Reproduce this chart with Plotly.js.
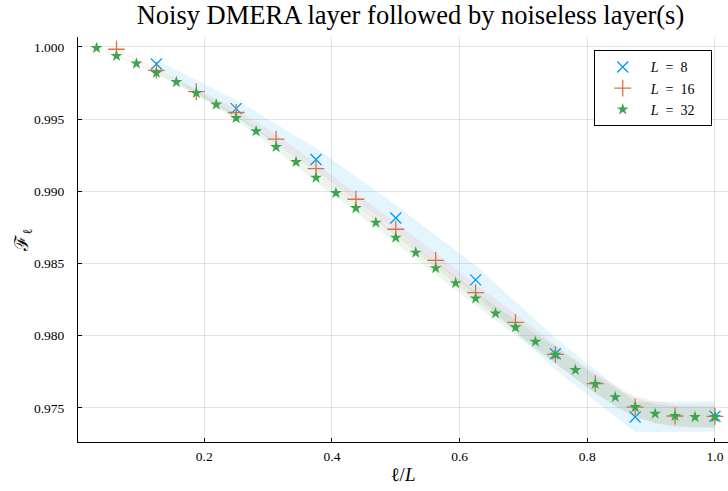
<!DOCTYPE html>
<html>
<head>
<meta charset="utf-8">
<script src="https://cdn.plot.ly/plotly-3.0.1.min.js"></script>
<style>html,body{margin:0;padding:0;background:#fff;}#chart{width:728px;height:491px;}</style>
</head>
<body>
<div id="chart"></div>
<script>
// ---- data ----
const seriesNames = ["<i>L</i>\u2002=\u20028\u2002\u2009", "<i>L</i>\u2002=\u200216\u2002\u2009", "<i>L</i>\u2002=\u200232\u2002\u2009"];

const x8 = [0.125, 0.25, 0.375, 0.5, 0.625, 0.75, 0.875, 1.0];
const y8 = [0.99882, 0.99573, 0.99220, 0.98815, 0.98386, 0.97875, 0.97436, 0.97441];
const hw8 = [0.0003, 0.0006, 0.0008, 0.0009, 0.0010, 0.0011, 0.00105, 0.00105];

const x16 = [0.0625, 0.125, 0.1875, 0.25, 0.3125, 0.375, 0.4375, 0.5,
             0.5625, 0.625, 0.6875, 0.75, 0.8125, 0.875, 0.9375, 1.0];
const y16 = [0.99984, 0.99838, 0.99690, 0.99546, 0.99362, 0.99157, 0.98945, 0.98737,
             0.98522, 0.98298, 0.98092, 0.97870, 0.97667, 0.97504, 0.97443, 0.97441];
const hw16 = [0.00005, 0.0001, 0.0002, 0.00025, 0.0003, 0.00035, 0.0004, 0.00045,
              0.0005, 0.00055, 0.0006, 0.00065, 0.0007, 0.00075, 0.0008, 0.0008];

const x32 = [0.03125, 0.0625, 0.09375, 0.125, 0.15625, 0.1875, 0.21875, 0.25,
             0.28125, 0.3125, 0.34375, 0.375, 0.40625, 0.4375, 0.46875, 0.5,
             0.53125, 0.5625, 0.59375, 0.625, 0.65625, 0.6875, 0.71875, 0.75,
             0.78125, 0.8125, 0.84375, 0.875, 0.90625, 0.9375, 0.96875, 1.0];
const y32 = [0.99993, 0.99938, 0.99885, 0.99820, 0.99757, 0.99681, 0.99601, 0.99508,
             0.99416, 0.99307, 0.99203, 0.99095, 0.98988, 0.98884, 0.98783, 0.98679,
             0.98575, 0.98468, 0.98364, 0.98258, 0.98154, 0.98058, 0.97958, 0.97868,
             0.97762, 0.97665, 0.97574, 0.97505, 0.97459, 0.97443, 0.97436, 0.97436];
const hw32 = [0.00002, 0.00004, 0.00006, 0.0001, 0.00012, 0.00015, 0.00018, 0.0002,
              0.00022, 0.00025, 0.00028, 0.0003, 0.00032, 0.00035, 0.00037, 0.0004,
              0.00042, 0.00044, 0.00046, 0.00048, 0.0005, 0.00052, 0.00054, 0.00056,
              0.00058, 0.0006, 0.00062, 0.00064, 0.00066, 0.00068, 0.0007, 0.0007];

const xTickVals = [0.2, 0.4, 0.6, 0.8, 1.0];
const xTickText = ["0.2", "0.4", "0.6", "0.8", "1.0"];
const yTickVals = [0.975, 0.980, 0.985, 0.990, 0.995, 1.000];
const yTickText = ["0.975", "0.980", "0.985", "0.990", "0.995", "1.000"];

// ---- styling ----
const colors = ["#009AFA", "#E36F47", "#3EA44E"];
const fills = ["rgba(0,154,250,0.10)", "rgba(227,111,71,0.10)", "rgba(62,164,78,0.10)"];
const SERIF = "'Liberation Serif', 'DejaVu Serif', serif";

function ribbon(xs, ys, hw, fill) {
  const lo = ys.map((v, i) => v - hw[i]);
  const hi = ys.map((v, i) => v + hw[i]);
  return [
    {x: xs, y: lo, mode: "lines", line: {width: 0, color: fill}, showlegend: false, hoverinfo: "skip"},
    {x: xs, y: hi, mode: "lines", line: {width: 0, color: fill}, fill: "tonexty", fillcolor: fill, showlegend: false, hoverinfo: "skip"}
  ];
}

const traces = [];
traces.push(...ribbon(x8, y8, hw8, fills[0]));
traces.push({x: x8, y: y8, mode: "markers", name: seriesNames[0],
  marker: {symbol: "x-thin-open", size: 11, color: colors[0], line: {width: 1.3, color: colors[0]}}});
traces.push(...ribbon(x16, y16, hw16, fills[1]));
traces.push({x: x16, y: y16, mode: "markers", name: seriesNames[1],
  marker: {symbol: "cross-thin-open", size: 12, color: colors[1], line: {width: 1.3, color: colors[1]}}});
traces.push(...ribbon(x32, y32, hw32, fills[2]));
traces.push({x: x32, y: y32, mode: "markers", name: seriesNames[2],
  marker: {symbol: "star", size: 9, color: colors[2], line: {width: 0}}});

const layout = {
  width: 728, height: 491,
  margin: {l: 78, r: 0, t: 37, b: 49, pad: 0},
  paper_bgcolor: "#ffffff", plot_bgcolor: "#ffffff",
  font: {family: SERIF, size: 13, color: "#000"},
  title: {text: "Noisy DMERA layer followed by noiseless layer(s)",
    font: {family: SERIF, size: 26.5, color: "#000"},
    x: 0.5115, xref: "paper", xanchor: "center", y: 0.971, yref: "container", yanchor: "middle"},
  showlegend: true,
  legend: {x: 0.975, y: 0.967, xanchor: "right", yanchor: "top", traceorder: "normal",
    bgcolor: "#ffffff", bordercolor: "#000000", borderwidth: 1, itemwidth: 46,
    font: {family: SERIF, size: 14, color: "#000"}, tracegroupgap: 0},
  xaxis: {
    range: [0.0022, 1.0204], tickvals: xTickVals, ticktext: xTickText,
    showgrid: true, gridcolor: "rgba(0,0,0,0.1)", gridwidth: 1, zeroline: false,
    showline: true, linecolor: "#000", linewidth: 1, mirror: false,
    ticks: "inside", ticklen: 4, tickcolor: "#000", ticklabelstandoff: 2,
    tickfont: {family: SERIF, size: 13.5, color: "#000"},
    title: {text: "ℓ/<i>L</i>", font: {family: SERIF, size: 19, color: "#000"}, standoff: 4}
  },
  yaxis: {
    range: [0.97263, 1.00069], tickvals: yTickVals, ticktext: yTickText,
    showgrid: true, gridcolor: "rgba(0,0,0,0.1)", gridwidth: 1, zeroline: false,
    showline: true, linecolor: "#000", linewidth: 1, mirror: false,
    ticks: "inside", ticklen: 4, tickcolor: "#000", ticklabelstandoff: 10,
    tickfont: {family: SERIF, size: 13.5, color: "#000"},
    title: {text: "ℱ<sub>ℓ</sub>", font: {family: SERIF, size: 19, color: "#000"}, standoff: 0}
  }
};

Plotly.newPlot("chart", traces, layout, {displayModeBar: false, staticPlot: true});
</script>
</body>
</html>
